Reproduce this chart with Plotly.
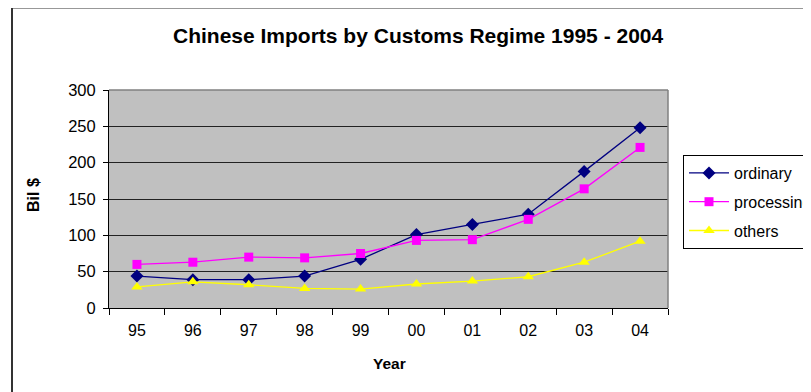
import plotly.graph_objects as go

years = ["95", "96", "97", "98", "99", "00", "01", "02", "03", "04"]
ordinary = [44, 39, 39, 44, 67, 101, 115, 129, 188, 248]
processing = [60, 63, 70, 69, 75, 93, 94, 122, 164, 221]
others = [29, 36, 32, 27, 26, 33, 37, 43, 63, 92]

OFF = 8  # page body margin offset
L, R, T, B = 109 - OFF, 668 - OFF, 90 - OFF, 308 - OFF
W, H = 803, 384
pw, ph = R - L, B - T

def px_x(x):
    return (x - OFF - L) / pw

def px_y(y):
    return (B - (y - OFF)) / ph

fig = go.Figure()
fig.add_trace(go.Scatter(x=years, y=ordinary, name="ordinary", mode="lines+markers",
                         line=dict(color="#000080", width=1.3),
                         marker=dict(symbol="diamond", size=10, color="#000080"),
                         legendgroup="a"))
fig.add_trace(go.Scatter(x=years, y=processing, name="processing", mode="lines+markers",
                         line=dict(color="#FF00FF", width=1.3),
                         marker=dict(symbol="square", size=9, color="#FF00FF"),
                         legendgroup="b"))
fig.add_trace(go.Scatter(x=years, y=others, name="others", mode="lines+markers",
                         line=dict(color="#FFFF00", width=1.3),
                         marker=dict(symbol="triangle-up", size=10, color="#FFFF00"),
                         legendgroup="c"))

fig.update_layout(
    width=W, height=H,
    margin=dict(l=L, r=W - R, t=T, b=H - B, autoexpand=False),
    paper_bgcolor="white",
    plot_bgcolor="#C0C0C0",
    font=dict(family="Liberation Sans, Arial, sans-serif", size=16, color="black"),
    showlegend=True,
    legend=dict(x=px_x(683), y=px_y(155), xanchor="left", yanchor="top",
                bgcolor="white", bordercolor="black", borderwidth=1,
                font=dict(size=16), traceorder="grouped", tracegroupgap=5,
                itemwidth=40),
    xaxis=dict(type="category", categoryorder="array", categoryarray=years,
               showgrid=False, showline=True, linecolor="black", linewidth=1,
               ticks="outside", ticklen=6, tickcolor="black", tickson="boundaries",
               ticklabelstandoff=8, mirror=False, zeroline=False,
               tickfont=dict(size=16), range=[-0.5, 9.5]),
    yaxis=dict(range=[0, 300], dtick=50, showgrid=True, gridcolor="#222222", gridwidth=1,
               showline=True, linecolor="black", linewidth=1, ticks="outside",
               ticklen=5, tickcolor="black", zeroline=False, ticklabelstandoff=4,
               tickfont=dict(size=16.5)),
    shapes=[
        dict(type="rect", xref="paper", yref="paper",
             x0=px_x(12), x1=px_x(880), y0=px_y(430), y1=px_y(7.5),
             line=dict(color="#333333", width=2), fillcolor="rgba(0,0,0,0)", layer="below"),
        dict(type="line", xref="paper", yref="paper", x0=0, x1=1, y0=1, y1=1,
             line=dict(color="#808080", width=1.5)),
        dict(type="line", xref="paper", yref="paper", x0=1, x1=1, y0=0, y1=1,
             line=dict(color="#808080", width=1.5)),
    ],
    annotations=[
        dict(text="<b>Chinese Imports by Customs Regime 1995 - 2004</b>", xref="paper", yref="paper",
             x=px_x(418), y=px_y(35), showarrow=False, font=dict(size=21),
             xanchor="center", yanchor="middle"),
        dict(text="<b>Year</b>", xref="paper", yref="paper",
             x=px_x(389), y=px_y(363), showarrow=False, font=dict(size=15.5),
             xanchor="center", yanchor="middle"),
        dict(text="<b>Bil $</b>", xref="paper", yref="paper",
             x=px_x(33), y=px_y(195), showarrow=False, font=dict(size=16), textangle=-90,
             xanchor="center", yanchor="middle"),
    ],
)

fig.write_html("out.html")
